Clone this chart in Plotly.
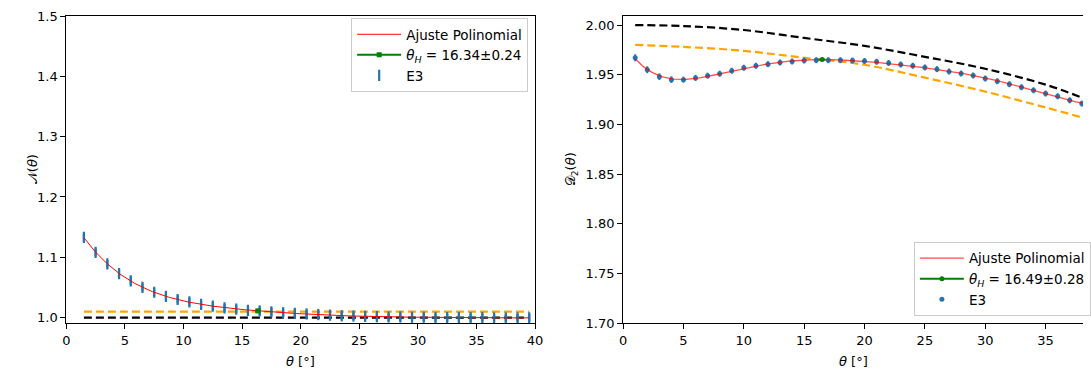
import numpy as np
import plotly.graph_objects as go

# ---- left panel: N(theta) ----
theta_n = [1.5, 2.5, 3.5, 4.5, 5.5, 6.5, 7.5, 8.5, 9.5, 10.5, 11.5, 12.5, 13.5,
           14.5, 15.5, 16.5, 17.5, 18.5, 19.5, 20.5, 21.5, 22.5, 23.5, 24.5, 25.5,
           26.5, 27.5, 28.5, 29.5, 30.5, 31.5, 32.5, 33.5, 34.5, 35.5, 36.5, 37.5,
           38.5, 39.5]
n_vals = [1.133, 1.108, 1.089, 1.073, 1.061, 1.050, 1.042, 1.035, 1.030, 1.026,
          1.022, 1.019, 1.016, 1.014, 1.012, 1.011, 1.0095, 1.008, 1.007, 1.006,
          1.005, 1.004, 1.003, 1.0025, 1.002, 1.0015, 1.001, 1.001, 1.0005, 1.0005,
          1.0, 1.0, 1.0, 1.0, 1.0, 0.9995, 0.9995, 0.9995, 0.9995]
n_err = [0.0065, 0.0065, 0.0065, 0.0065, 0.0065, 0.0065, 0.0065, 0.0065, 0.0065,
         0.0065, 0.0065, 0.0065, 0.0065, 0.0065, 0.0065, 0.0065, 0.0065, 0.0065,
         0.0065, 0.0065, 0.0065, 0.0065, 0.0065, 0.0065, 0.0065, 0.0065, 0.0065,
         0.0065, 0.0065, 0.0065, 0.0065, 0.0065, 0.0065, 0.0065, 0.0065, 0.0065,
         0.0065, 0.0065, 0.0065]
n_ref_black = 1.0
n_ref_orange = 1.01
n_theta_h, n_theta_h_err = 16.34, 0.24

# ---- right panel: D2(theta) ----
theta_d = [1, 2, 3, 4, 5, 6, 7, 8, 9, 10, 11, 12, 13, 14, 15, 16, 17, 18, 19,
           20, 21, 22, 23, 24, 25, 26, 27, 28, 29, 30, 31, 32, 33, 34, 35, 36, 37, 38]
d_vals = [1.967, 1.955, 1.948, 1.945, 1.945, 1.9468, 1.949, 1.951, 1.954, 1.957,
          1.959, 1.9606, 1.9623, 1.9633, 1.9643, 1.9646, 1.9646, 1.9646, 1.9643,
          1.9638, 1.963, 1.9618, 1.9603, 1.959, 1.9573, 1.9556, 1.9532, 1.9512,
          1.9492, 1.9462, 1.9434, 1.9404, 1.9374, 1.9343, 1.931, 1.9283, 1.9242,
          1.9209]
d_err = [0.0035, 0.0035, 0.0033, 0.0033, 0.003, 0.003, 0.003, 0.003, 0.003, 0.003,
         0.003, 0.003, 0.003, 0.003, 0.003, 0.003, 0.003, 0.003, 0.003, 0.003,
         0.003, 0.003, 0.003, 0.003, 0.003, 0.003, 0.003, 0.003, 0.003, 0.003,
         0.003, 0.003, 0.003, 0.003, 0.003, 0.003, 0.003, 0.003]
d_ref_theta = [1, 5, 10, 15, 20, 25, 30, 35, 38]
d_ref_black = [2.000, 1.999, 1.995, 1.987, 1.979, 1.968, 1.956, 1.940, 1.927]
d_ref_orange = [1.980, 1.978, 1.974, 1.967, 1.960, 1.947, 1.933, 1.917, 1.907]
d_theta_h, d_theta_h_err = 16.49, 0.28

BLUE = "#1f77b4"
ORANGE = "#ffa500"
FONT = "DejaVu Sans"

# polynomial fits of each data set
n_coef = np.polyfit(theta_n, n_vals, 6)
n_fit_x = np.linspace(theta_n[0], theta_n[-1], 300)
n_fit_y = np.polyval(n_coef, n_fit_x)
d_coef = np.polyfit(theta_d, d_vals, 6)
d_fit_x = np.linspace(theta_d[0], theta_d[-1], 300)
d_fit_y = np.polyval(d_coef, d_fit_x)

fig = go.Figure()

# left panel
fig.add_trace(go.Scatter(x=[theta_n[0], theta_n[-1]], y=[n_ref_black, n_ref_black],
                         mode="lines", line=dict(color="black", width=2.2, dash="8px,4px"),
                         showlegend=False, xaxis="x", yaxis="y"))
fig.add_trace(go.Scatter(x=[theta_n[0], theta_n[-1]], y=[n_ref_orange, n_ref_orange],
                         mode="lines", line=dict(color=ORANGE, width=2.2, dash="8px,4px"),
                         showlegend=False, xaxis="x", yaxis="y"))
fig.add_trace(go.Scatter(x=theta_n, y=n_vals, mode="markers", name="E3",
                         marker=dict(symbol="line-ns-open", size=8, color=BLUE,
                                     line=dict(color=BLUE, width=2.2)),
                         error_y=dict(type="data", array=n_err, color=BLUE,
                                      thickness=2.2, width=0),
                         legend="legend", legendrank=3, xaxis="x", yaxis="y"))
fig.add_trace(go.Scatter(x=n_fit_x, y=n_fit_y, mode="lines", name="Ajuste Polinomial",
                         line=dict(color="red", width=1),
                         legend="legend", legendrank=1, xaxis="x", yaxis="y"))
fig.add_trace(go.Scatter(x=[n_theta_h], y=[float(np.polyval(n_coef, n_theta_h))],
                         mode="lines+markers",
                         name=f"<i>θ<sub>H</sub></i> = {n_theta_h:.2f}±{n_theta_h_err:.2f}",
                         marker=dict(symbol="square", size=5, color="green"),
                         line=dict(color="green", width=2),
                         error_x=dict(type="data", array=[n_theta_h_err], color="green",
                                      thickness=2, width=0),
                         legend="legend", legendrank=2, xaxis="x", yaxis="y"))

# right panel
fig.add_trace(go.Scatter(x=d_ref_theta, y=d_ref_black, mode="lines", line_shape="spline",
                         line=dict(color="black", width=2.2, dash="8px,4px"),
                         showlegend=False, xaxis="x2", yaxis="y2"))
fig.add_trace(go.Scatter(x=d_ref_theta, y=d_ref_orange, mode="lines", line_shape="spline",
                         line=dict(color=ORANGE, width=2.2, dash="8px,4px"),
                         showlegend=False, xaxis="x2", yaxis="y2"))
fig.add_trace(go.Scatter(x=theta_d, y=d_vals, mode="markers", name="E3",
                         marker=dict(symbol="circle", size=5, color=BLUE),
                         error_y=dict(type="data", array=d_err, color=BLUE,
                                      thickness=2, width=0),
                         legend="legend2", legendrank=3, xaxis="x2", yaxis="y2"))
fig.add_trace(go.Scatter(x=d_fit_x, y=d_fit_y, mode="lines", name="Ajuste Polinomial",
                         line=dict(color="rgba(255,0,0,0.7)", width=1.3),
                         legend="legend2", legendrank=1, xaxis="x2", yaxis="y2"))
fig.add_trace(go.Scatter(x=[d_theta_h], y=[float(np.polyval(d_coef, d_theta_h))],
                         mode="lines+markers",
                         name=f"<i>θ<sub>H</sub></i> = {d_theta_h:.2f}±{d_theta_h_err:.2f}",
                         marker=dict(symbol="circle", size=5, color="green"),
                         line=dict(color="green", width=2),
                         error_x=dict(type="data", array=[d_theta_h_err], color="green",
                                      thickness=2, width=0),
                         legend="legend2", legendrank=2, xaxis="x2", yaxis="y2"))

W, H = 1091, 369
axis_common = dict(showgrid=False, zeroline=False, showline=True, linecolor="black",
                   linewidth=1, ticks="outside", ticklen=5, tickwidth=1,
                   tickcolor="black", tickfont=dict(family=FONT, size=13, color="black"))

legend_common = dict(bgcolor="white", bordercolor="#cccccc", borderwidth=1,
                     font=dict(family=FONT, size=13.5, color="black"),
                     tracegroupgap=0, itemwidth=44)

fig.update_layout(
    width=W, height=H, autosize=False,
    margin=dict(l=0, r=0, t=16, b=46),
    paper_bgcolor="white", plot_bgcolor="white",
    font=dict(family=FONT, size=13, color="black"),
    xaxis=dict(domain=[63 / W, 537 / W], range=[0, 40], tickvals=[0, 5, 10, 15, 20, 25, 30, 35, 40],
               mirror=True, anchor="y", **axis_common),
    yaxis=dict(domain=[0, 1], range=[0.991, 1.5], tickvals=[1.0, 1.1, 1.2, 1.3, 1.4, 1.5],
               tickformat=".1f", mirror=True, anchor="x", **axis_common),
    xaxis2=dict(domain=[626 / W, 1], range=[0, 38.1], tickvals=[0, 5, 10, 15, 20, 25, 30, 35],
                mirror=True, anchor="y2", **axis_common),
    yaxis2=dict(domain=[0, 1], range=[1.7, 2.0091],
                tickvals=[1.70, 1.75, 1.80, 1.85, 1.90, 1.95, 2.00],
                tickformat=".2f", mirror=False, anchor="x2", **axis_common),
    legend=dict(x=530 / W, xanchor="right", y=0.9935, yanchor="top", **legend_common),
    legend2=dict(x=920 / W, xanchor="left", y=0.023, yanchor="bottom", **legend_common),
    annotations=[
        dict(text="<i>θ</i> [°]", x=(63 + 537) / 2 / W, y=-0.03, xref="paper", yref="paper",
             xanchor="center", yanchor="top", yshift=-20, showarrow=False,
             font=dict(family=FONT, size=13)),
        dict(text="<i>θ</i> [°]", x=(626 + 1091) / 2 / W, y=-0.03, xref="paper", yref="paper",
             xanchor="center", yanchor="top", yshift=-20, showarrow=False,
             font=dict(family=FONT, size=13)),
        dict(text="𝒩(<i>θ</i>)", x=29 / W, y=0.5, xref="paper", yref="paper",
             xanchor="center", yanchor="middle", textangle=-90, showarrow=False,
             font=dict(family=FONT, size=13)),
        dict(text="𝒟<sub>2</sub>(<i>θ</i>)", x=574 / W, y=0.5, xref="paper", yref="paper",
             xanchor="center", yanchor="middle", textangle=-90, showarrow=False,
             font=dict(family=FONT, size=13)),
    ],
)

fig.write_html("out.html")
